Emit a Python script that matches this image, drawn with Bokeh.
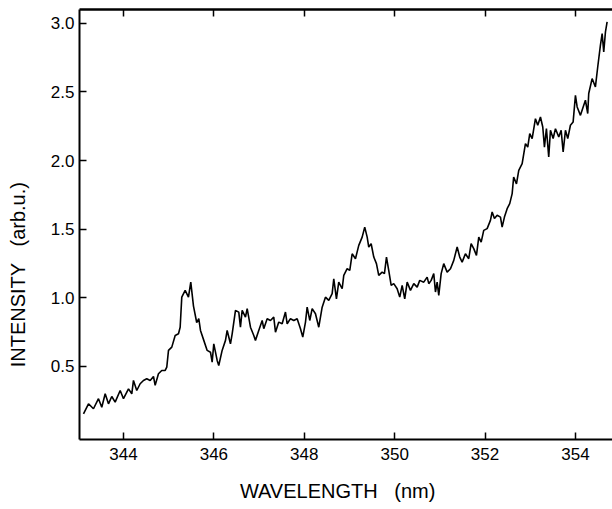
from bokeh.plotting import figure
from bokeh.models import (LinearAxis, FixedTicker, PrintfTickFormatter,
                          Range1d, ColumnDataSource)
from bokeh.embed import file_html
from bokeh.resources import INLINE

# ---- data ----
wavelength = [
    343.115, 343.226, 343.336, 343.447, 343.520, 343.595, 343.668, 343.741, 343.816, 343.927,
    344.000, 344.111, 344.184, 344.221, 344.294, 344.369, 344.442, 344.515, 344.591, 344.664,
    344.701, 344.774, 344.847, 344.923, 344.958, 344.996, 345.069, 345.144, 345.217, 345.254,
    345.290, 345.365, 345.438, 345.489, 345.549, 345.620, 345.666, 345.704, 345.777, 345.852,
    345.925, 345.962, 345.998, 346.073, 346.108, 346.183, 346.257, 346.294, 346.367, 346.405,
    346.478, 346.551, 346.588, 346.626, 346.699, 346.737, 346.810, 346.883, 346.920, 346.993,
    347.069, 347.104, 347.179, 347.252, 347.325, 347.363, 347.436, 347.511, 347.584, 347.622,
    347.695, 347.768, 347.843, 347.916, 347.967, 348.027, 348.064, 348.122, 348.175, 348.248,
    348.321, 348.396, 348.469, 348.542, 348.617, 348.653, 348.712, 348.763, 348.839, 348.874,
    348.949, 349.007, 349.060, 349.133, 349.206, 349.281, 349.338, 349.392, 349.427, 349.480,
    349.538, 349.597, 349.648, 349.723, 349.774, 349.819, 349.869, 349.923, 349.980, 350.055,
    350.113, 350.166, 350.223, 350.277, 350.350, 350.423, 350.498, 350.555, 350.644, 350.719,
    350.755, 350.808, 350.865, 350.903, 350.940, 350.976, 351.029, 351.086, 351.161, 351.235,
    351.308, 351.383, 351.440, 351.493, 351.566, 351.639, 351.692, 351.750, 351.810, 351.861,
    351.914, 351.971, 352.046, 352.119, 352.157, 352.208, 352.268, 352.341, 352.378, 352.429,
    352.489, 352.546, 352.600, 352.633, 352.695, 352.746, 352.821, 352.894, 352.945, 352.989,
    353.042, 353.115, 353.166, 353.226, 353.277, 353.314, 353.358, 353.409, 353.447, 353.507,
    353.558, 353.631, 353.684, 353.728, 353.779, 353.830, 353.889, 353.949, 354.000, 354.038,
    354.111, 354.171, 354.221, 354.272, 354.294, 354.369, 354.442, 354.493, 354.553, 354.591,
    354.626, 354.664, 354.701,
]
intensity = [
    0.155, 0.228, 0.192, 0.265, 0.203, 0.301, 0.228, 0.281, 0.240, 0.325,
    0.265, 0.337, 0.301, 0.398, 0.325, 0.374, 0.398, 0.410, 0.398, 0.427,
    0.362, 0.447, 0.471, 0.471, 0.495, 0.617, 0.641, 0.726, 0.738, 0.786,
    1.005, 1.054, 1.005, 1.114, 0.940, 0.820, 0.848, 0.762, 0.690, 0.617,
    0.604, 0.531, 0.665, 0.544, 0.507, 0.617, 0.690, 0.762, 0.665, 0.738,
    0.908, 0.896, 0.786, 0.908, 0.859, 0.921, 0.786, 0.726, 0.690, 0.762,
    0.835, 0.775, 0.848, 0.835, 0.859, 0.750, 0.823, 0.811, 0.896, 0.811,
    0.848, 0.835, 0.848, 0.775, 0.714, 0.823, 0.932, 0.835, 0.921, 0.884,
    0.786, 0.932, 1.005, 0.981, 1.030, 1.139, 0.993, 1.114, 1.066, 1.163,
    1.212, 1.200, 1.321, 1.285, 1.382, 1.442, 1.515, 1.442, 1.370, 1.394,
    1.297, 1.249, 1.163, 1.187, 1.176, 1.297, 1.200, 1.090, 1.103, 1.066,
    1.005, 1.090, 0.993, 1.114, 1.054, 1.103, 1.078, 1.127, 1.114, 1.151,
    1.103, 1.127, 1.176, 1.042, 1.114, 1.018, 1.176, 1.249, 1.187, 1.212,
    1.273, 1.370, 1.297, 1.260, 1.321, 1.285, 1.394, 1.358, 1.309, 1.442,
    1.406, 1.491, 1.504, 1.564, 1.625, 1.577, 1.601, 1.588, 1.515, 1.588,
    1.649, 1.686, 1.759, 1.880, 1.830, 1.929, 1.977, 2.123, 2.098, 2.196,
    2.160, 2.305, 2.257, 2.317, 2.244, 2.098, 2.232, 2.026, 2.220, 2.160,
    2.232, 2.171, 2.220, 2.062, 2.220, 2.160, 2.257, 2.281, 2.475, 2.390,
    2.329, 2.390, 2.439, 2.342, 2.488, 2.597, 2.536, 2.681, 2.840, 2.925,
    2.791, 2.937, 3.010,
]
x_ticks = [344, 346, 348, 350, 352, 354]
y_ticks = [0.5, 1.0, 1.5, 2.0, 2.5, 3.0]
NB = "\u00a0"
x_title = "WAVELENGTH " + NB * 2 + "(nm)"
y_title = "INTENSITY " + NB * 2 + "(arb.u.)"

TICK_FONT = "Liberation Sans"
TITLE_FONT = "Liberation Sans"

X0, X1 = 343.027, 354.82
Y0, Y1 = -0.032, 3.10

p = figure(width=612, height=509, output_backend="svg", toolbar_location=None,
           x_range=Range1d(X0, X1), y_range=Range1d(Y0, Y1),
           x_axis_location=None, y_axis_location=None,
           min_border_left=79, min_border_right=0, min_border_top=9,
           min_border_bottom=70)
p.outline_line_color = None
p.xgrid.visible = False
p.ygrid.visible = False
p.background_fill_color = "white"
p.border_fill_color = "white"

src = ColumnDataSource(dict(x=wavelength, y=intensity))
p.line("x", "y", source=src, line_color="black", line_width=1.6)


def style(ax):
    ax.axis_line_color = "black"
    ax.axis_line_width = 2
    ax.major_tick_line_color = "black"
    ax.major_tick_line_width = 1.5
    ax.major_tick_in = 7
    ax.major_tick_out = 0
    ax.minor_tick_line_color = None
    ax.major_label_text_font = TICK_FONT
    ax.major_label_text_font_size = "17px"
    ax.major_label_text_color = "black"
    ax.axis_label_text_font = TITLE_FONT
    ax.axis_label_text_font_size = "20px"
    ax.axis_label_text_font_style = "normal"
    ax.axis_label_text_color = "black"


xb = LinearAxis(ticker=FixedTicker(ticks=x_ticks), axis_label=x_title + NB * 3)
style(xb)
xb.major_label_standoff = 8
xb.axis_label_standoff = 17
p.add_layout(xb, "below")

# top frame edge: an axis with inward ticks and no labels drawn
xt = LinearAxis(ticker=FixedTicker(ticks=x_ticks))
style(xt)
xt.axis_line_width = 2.5
xt.major_label_text_color = None
xt.major_label_text_font_size = "1px"
xt.major_label_standoff = 0
p.add_layout(xt, "above")

yl = LinearAxis(ticker=FixedTicker(ticks=y_ticks),
                formatter=PrintfTickFormatter(format="%.1f"),
                axis_label=y_title + NB * 18)
style(yl)
yl.major_label_standoff = 5
yl.axis_label_standoff = 19
p.add_layout(yl, "left")

open("out.html", "w").write(file_html(p, INLINE))
